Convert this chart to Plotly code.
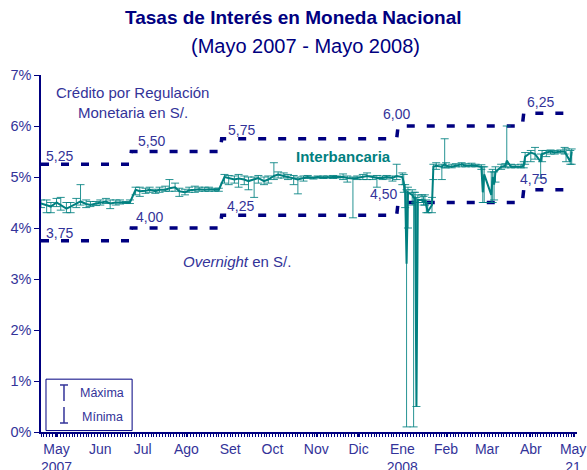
import plotly.graph_objects as go

# ---------------- data ----------------
ib_dates = [
    "2007-05-10", "2007-05-14", "2007-05-17", "2007-05-21", "2007-05-24", "2007-05-28", "2007-05-31",
    "2007-06-04", "2007-06-07", "2007-06-11", "2007-06-14", "2007-06-18", "2007-06-21", "2007-06-25", "2007-06-28",
    "2007-07-02", "2007-07-05", "2007-07-09", "2007-07-12", "2007-07-16", "2007-07-19", "2007-07-23", "2007-07-26", "2007-07-30",
    "2007-08-02", "2007-08-06", "2007-08-09", "2007-08-13", "2007-08-16", "2007-08-20", "2007-08-23", "2007-08-27", "2007-08-30",
    "2007-09-03", "2007-09-06", "2007-09-10", "2007-09-13", "2007-09-17", "2007-09-20", "2007-09-24", "2007-09-27",
    "2007-10-01", "2007-10-04", "2007-10-08", "2007-10-11", "2007-10-15", "2007-10-18", "2007-10-22", "2007-10-25", "2007-10-29",
    "2007-11-01", "2007-11-05", "2007-11-08", "2007-11-12", "2007-11-15", "2007-11-19", "2007-11-22", "2007-11-26", "2007-11-29",
    "2007-12-03", "2007-12-06", "2007-12-10", "2007-12-13", "2007-12-17", "2007-12-20", "2007-12-24", "2007-12-27", "2007-12-31",
    "2008-01-03", "2008-01-07", "2008-01-10", "2008-01-14", "2008-01-17", "2008-01-21", "2008-01-22", "2008-01-23",
    "2008-01-24", "2008-01-25", "2008-01-28", "2008-01-29", "2008-01-30", "2008-01-31",
    "2008-02-01", "2008-02-04", "2008-02-05", "2008-02-06", "2008-02-07", "2008-02-08", "2008-02-11", "2008-02-12",
    "2008-02-14", "2008-02-18", "2008-02-20", "2008-02-21", "2008-02-25", "2008-02-28",
    "2008-03-03", "2008-03-06", "2008-03-10", "2008-03-13", "2008-03-17", "2008-03-18", "2008-03-19", "2008-03-24",
    "2008-03-25", "2008-03-26", "2008-03-27", "2008-03-31",
    "2008-04-03", "2008-04-04", "2008-04-07", "2008-04-10", "2008-04-14", "2008-04-16", "2008-04-17", "2008-04-21",
    "2008-04-24", "2008-04-28", "2008-04-29",
    "2008-05-02", "2008-05-05", "2008-05-08", "2008-05-12", "2008-05-15", "2008-05-16", "2008-05-19", "2008-05-20",
]

ib_avg = [
    4.48, 4.45, 4.42, 4.50, 4.45, 4.38, 4.42,
    4.48, 4.52, 4.47, 4.45, 4.48, 4.50, 4.52, 4.48,
    4.50, 4.50, 4.50, 4.50, 4.75, 4.72, 4.73, 4.75, 4.72,
    4.75, 4.75, 4.78, 4.80, 4.72, 4.70, 4.74, 4.75, 4.76,
    4.75, 4.76, 4.75, 4.75, 5.00, 4.98, 4.95, 4.97,
    4.95, 4.92, 4.95, 4.98, 4.92, 4.95, 5.02, 5.05, 5.02,
    5.00, 4.98, 4.95, 4.98, 5.00, 4.98, 5.00, 4.99, 5.00,
    5.00, 5.00, 5.00, 4.98, 4.97, 4.98, 5.00, 5.02, 5.00,
    4.98, 4.98, 5.00, 4.98, 5.02, 5.00, 4.90, 4.70,
    3.30, 4.70, 4.65, 4.60, 4.60, 0.50,
    4.55, 4.55, 4.50, 4.55, 4.40, 4.32, 4.45, 5.20,
    5.22, 5.20, 5.25, 5.22, 5.20, 5.22,
    5.25, 5.22, 5.23, 5.22, 5.20, 4.70, 5.05, 4.65,
    5.00, 4.85, 5.10, 5.20,
    5.22, 5.32, 5.20, 5.20, 5.20, 5.22, 5.40, 5.48,
    5.45, 5.30, 5.45,
    5.48, 5.50, 5.48, 5.50, 5.50, 5.45, 5.30, 5.50,
]

ib_max = [
    4.55, 4.55, 4.50, 4.58, 4.60, 4.50, 4.50,
    4.58, 4.85, 4.55, 4.52, 4.52, 4.55, 4.58, 4.55,
    4.55, 4.55, 4.52, 4.55, 4.80, 4.80, 4.78, 4.80, 4.76,
    4.80, 4.82, 4.95, 4.88, 4.78, 4.76, 4.80, 4.82, 4.80,
    4.80, 4.80, 4.78, 4.78, 5.05, 5.03, 5.02, 5.05,
    5.02, 5.00, 5.00, 5.03, 5.00, 5.02, 5.28, 5.10, 5.08,
    5.05, 5.03, 5.00, 5.02, 5.03, 5.00, 5.02, 5.02, 5.02,
    5.03, 5.02, 5.06, 5.02, 5.00, 5.02, 5.05, 5.08, 5.02,
    5.03, 5.02, 5.03, 5.02, 5.25, 5.08, 5.05, 4.85,
    4.75, 4.80, 4.75, 4.70, 4.70, 4.60,
    4.65, 4.65, 4.62, 4.65, 4.55, 4.50, 4.60, 5.25,
    5.28, 5.25, 5.75, 5.28, 5.25, 5.26,
    5.28, 5.26, 5.27, 5.25, 5.24, 5.20, 5.20, 5.10,
    5.15, 5.10, 5.20, 5.25,
    5.26, 6.00, 5.25, 5.24, 5.25, 5.30, 5.48, 5.52,
    5.58, 5.45, 5.52,
    5.52, 5.53, 5.52, 5.53, 5.58, 5.55, 5.52, 5.55,
]

ib_min = [
    4.40, 4.30, 4.30, 4.42, 4.35, 4.30, 4.30,
    4.40, 4.45, 4.40, 4.42, 4.44, 4.45, 4.48, 4.38,
    4.45, 4.47, 4.48, 4.48, 4.65, 4.62, 4.68, 4.70, 4.68,
    4.70, 4.72, 4.72, 4.72, 4.62, 4.65, 4.70, 4.70, 4.72,
    4.72, 4.72, 4.72, 4.72, 4.88, 4.85, 4.88, 4.80,
    4.85, 4.75, 4.60, 4.88, 4.85, 4.88, 4.95, 4.98, 4.98,
    4.95, 4.85, 4.67, 4.92, 4.97, 4.96, 4.98, 4.97, 4.98,
    4.97, 4.98, 4.95, 4.90, 4.20, 4.95, 4.95, 4.95, 4.95,
    4.80, 4.95, 4.96, 4.92, 4.95, 4.85, 4.70, 4.40,
    0.10, 4.00, 4.45, 0.10, 4.50, 0.50,
    4.50, 4.50, 4.45, 4.45, 4.30, 4.30, 4.30, 4.95,
    5.15, 4.95, 5.18, 5.18, 5.18, 5.20,
    5.20, 5.20, 5.20, 5.20, 5.15, 4.50, 4.50, 4.50,
    4.50, 4.55, 4.90, 5.15,
    5.18, 5.20, 5.18, 5.18, 5.18, 5.18, 5.25, 5.30,
    5.35, 4.98, 5.30,
    5.40, 5.45, 5.45, 5.47, 5.45, 5.30, 5.25, 5.25,
]

# corridor (step changes of the policy rate corridor)
corr_dates = ["2007-05-10", "2007-07-12", "2007-07-13", "2007-09-14", "2007-09-15",
              "2008-01-17", "2008-01-18", "2008-04-15", "2008-04-16", "2008-05-20"]
credito = [5.25, 5.25, 5.50, 5.50, 5.75, 5.75, 6.00, 6.00, 6.25, 6.25]
overnight = [3.75, 3.75, 4.00, 4.00, 4.25, 4.25, 4.50, 4.50, 4.75, 4.75]

credito_levels = [5.25, 5.50, 5.75, 6.00, 6.25]
overnight_levels = [3.75, 4.00, 4.25, 4.50, 4.75]

tick_dates = ["2007-05-21", "2007-06-21", "2007-07-21", "2007-08-21", "2007-09-21", "2007-10-21",
              "2007-11-21", "2007-12-21", "2008-01-21", "2008-02-21", "2008-03-21", "2008-04-21",
              "2008-05-21"]
tick_text = ["May<br>2007", "Jun", "Jul", "Ago", "Set", "Oct", "Nov", "Dic", "Ene<br>2008",
             "Feb", "Mar", "Abr", "May<br>21"]

# ---------------- placement / style ----------------
credito_label_x = ["2007-05-23", "2007-07-27", "2007-09-29", "2008-01-17", "2008-04-28"]
credito_label_shift = [8, 11, 9, 12, 11]
overnight_label_x = ["2007-05-23", "2007-07-26", "2007-09-28", "2008-01-08", "2008-04-23"]
overnight_label_shift = [8, 11, 9, 8.5, 10.5]

FONT = "Liberation Sans, Arial, sans-serif"
NAVY = "#000080"
TXT = "#333399"
TEAL = "#008080"

fig = go.Figure()

dash = "8px,12px"
fig.add_trace(go.Scatter(x=corr_dates, y=credito, mode="lines",
                         line=dict(color=NAVY, width=3.5, dash=dash), hoverinfo="skip",
                         showlegend=False))
fig.add_trace(go.Scatter(x=corr_dates, y=overnight, mode="lines",
                         line=dict(color=NAVY, width=3.5, dash=dash), hoverinfo="skip",
                         showlegend=False))

err_plus = [mx - v for mx, v in zip(ib_max, ib_avg)]
err_minus = [v - mn for v, mn in zip(ib_avg, ib_min)]

fig.add_trace(go.Scatter(
    x=ib_dates, y=ib_avg, mode="lines",
    line=dict(color=TEAL, width=2),
    error_y=dict(type="data", symmetric=False, array=err_plus, arrayminus=err_minus,
                 color="rgba(0,128,128,0.85)", thickness=1, width=4),
    showlegend=False,
))

annotations = []
for d, v, s in zip(credito_label_x, credito_levels, credito_label_shift):
    annotations.append(dict(x=d, y=v, xref="x", yref="y", yshift=s, showarrow=False,
                            text=f"{v:.2f}".replace(".", ","),
                            font=dict(family=FONT, size=14, color=TXT)))
for d, v, s in zip(overnight_label_x, overnight_levels, overnight_label_shift):
    annotations.append(dict(x=d, y=v, xref="x", yref="y", yshift=s, showarrow=False,
                            text=f"{v:.2f}".replace(".", ","),
                            font=dict(family=FONT, size=14, color=TXT)))

annotations += [
    dict(x="2007-07-14", y=6.65, xref="x", yref="y", showarrow=False,
         text="Crédito por Regulación", font=dict(family=FONT, size=15, color=TXT)),
    dict(x="2007-07-14", y=6.27, xref="x", yref="y", showarrow=False,
         text="Monetaria en S/.", font=dict(family=FONT, size=15, color=TXT)),
    dict(x="2007-09-26", y=3.35, xref="x", yref="y", showarrow=False,
         text="<i>Overnight</i> en S/.", font=dict(family=FONT, size=15, color=TXT)),
    dict(x="2007-12-10", y=5.41, xref="x", yref="y", showarrow=False,
         text="<b>Interbancaria</b>", font=dict(family=FONT, size=15, color=TEAL)),
    # titles
    dict(x=0.470, y=1.160, xref="paper", yref="paper", xanchor="center", yanchor="middle",
         showarrow=False, text="<b>Tasas de Interés en Moneda Nacional</b>",
         font=dict(family=FONT, size=19, color=NAVY)),
    dict(x=0.494, y=1.081, xref="paper", yref="paper", xanchor="center", yanchor="middle",
         showarrow=False, text="(Mayo 2007 - Mayo 2008)",
         font=dict(family=FONT, size=20, color=NAVY)),
    # legend texts
    dict(x=0.069, y=0.109, xref="paper", yref="paper", xanchor="left", yanchor="middle",
         showarrow=False, text="Máxima", font=dict(family=FONT, size=12.5, color=TXT)),
    dict(x=0.0728, y=0.042, xref="paper", yref="paper", xanchor="left", yanchor="middle",
         showarrow=False, text="Mínima", font=dict(family=FONT, size=12.5, color=TXT)),
]

shapes = [
    dict(type="rect", xref="paper", yref="paper", x0=0.0093, x1=0.170, y0=0.004, y1=0.148,
         line=dict(color=NAVY, width=1), fillcolor="white", layer="above"),
    # Máxima symbol
    dict(type="line", xref="paper", yref="paper", x0=0.0429, x1=0.0429, y0=0.0868, y1=0.1317,
         line=dict(color=TXT, width=1.5), layer="above"),
    dict(type="line", xref="paper", yref="paper", x0=0.0354, x1=0.0504, y0=0.1317, y1=0.1317,
         line=dict(color=TXT, width=1.5), layer="above"),
    # Mínima symbol
    dict(type="line", xref="paper", yref="paper", x0=0.0429, x1=0.0429, y0=0.0252, y1=0.070,
         line=dict(color=TXT, width=1.5), layer="above"),
    dict(type="line", xref="paper", yref="paper", x0=0.0354, x1=0.0504, y0=0.0252, y1=0.0252,
         line=dict(color=TXT, width=1.5), layer="above"),
]

fig.update_layout(
    width=587, height=470,
    margin=dict(l=41, r=10, t=75, b=38, autoexpand=False),
    paper_bgcolor="white", plot_bgcolor="white",
    showlegend=False,
    annotations=annotations,
    shapes=shapes,
    font=dict(family=FONT, color=TXT),
    xaxis=dict(
        type="date", range=["2007-05-10", "2008-05-23 18:00"], automargin=False,
        tickmode="array", tickvals=tick_dates, ticktext=tick_text,
        tickfont=dict(family=FONT, size=14, color=TXT),
        showgrid=False, zeroline=False,
        showline=True, linecolor=NAVY, linewidth=1.5,
        ticks="outside", ticklen=3, tickcolor=NAVY, tickwidth=1,
        minor=dict(tickmode="linear", tick0="2007-05-10", dtick=2 * 86400000,
                   ticks="outside", ticklen=3, tickcolor=NAVY, tickwidth=1),
    ),
    yaxis=dict(
        range=[0, 7], automargin=False, tickmode="array", tickvals=[0, 1, 2, 3, 4, 5, 6, 7],
        ticktext=["0%", "1%", "2%", "3%", "4%", "5%", "6%", "7%"],
        tickfont=dict(family=FONT, size=14.5, color=TXT),
        showgrid=False, zeroline=False,
        showline=True, linecolor=NAVY, linewidth=1.5,
        ticks="outside", ticklen=5, tickcolor=NAVY,
    ),
)

fig.write_html("out.html", config={"displayModeBar": False},
               post_script="document.body.style.margin='0';")
